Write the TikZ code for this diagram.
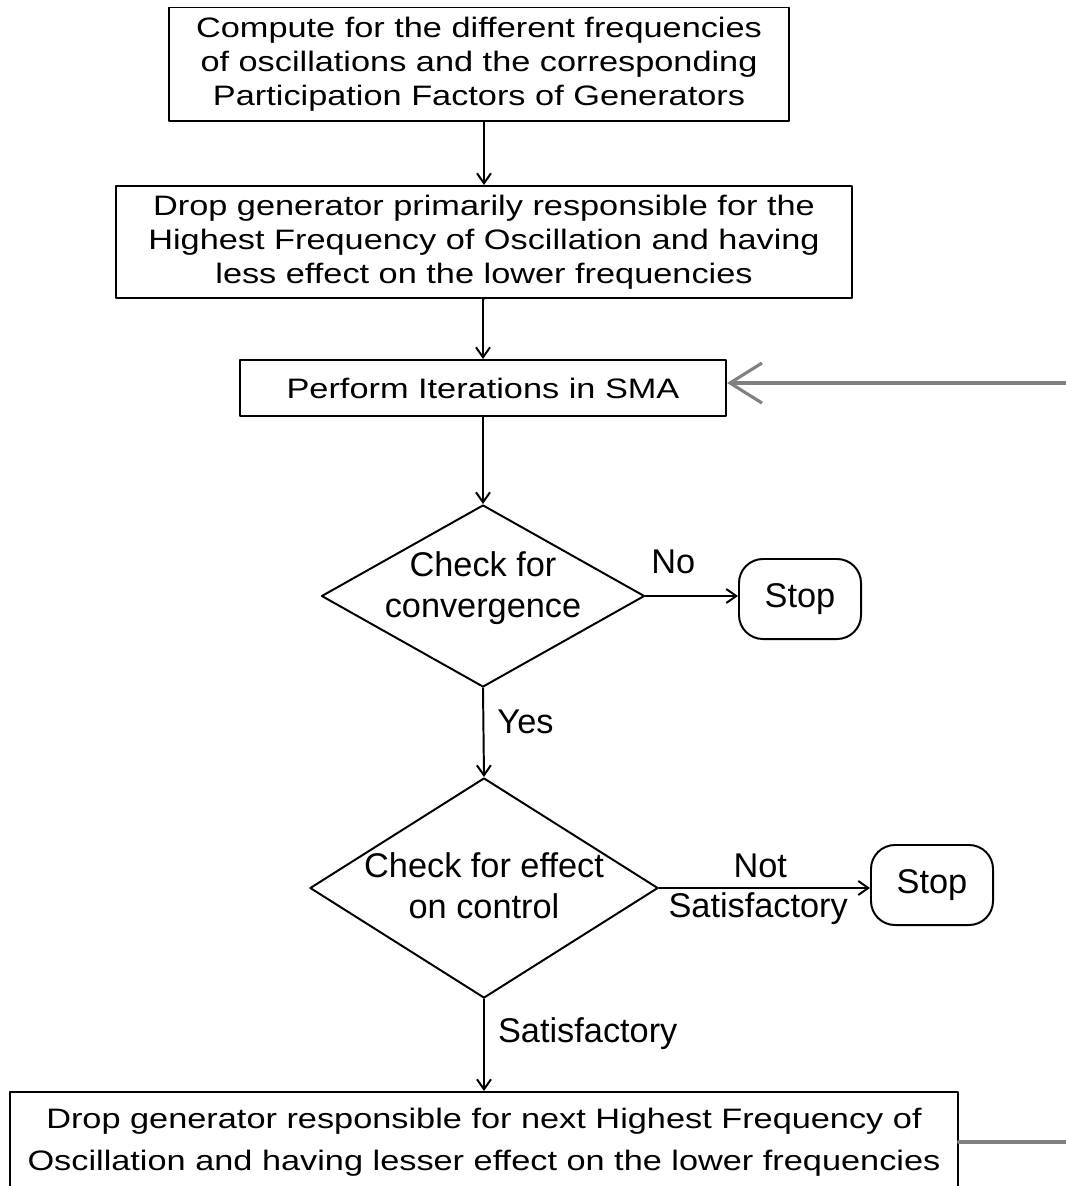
\documentclass[tikz,border=0pt]{standalone}
\usepackage{fontspec}
\setmainfont{Liberation Sans}
\newfontfamily\boxfont[FakeStretch=1.22]{Liberation Sans}
\usetikzlibrary{shapes.geometric,arrows.meta}

\begin{document}
\begin{tikzpicture}[x=0.025cm, y=-0.025cm, line cap=round, line join=round,
    every node/.style={font=\fontsize{24.4}{29}\selectfont},
    box/.style={draw, line width=1.4pt, align=center, inner sep=0pt,
      font=\boxfont\fontsize{20}{24.2}\selectfont},
    check/.style={diamond, draw, line width=1.4pt, inner sep=0pt},
    stopbox/.style={draw, line width=1.4pt, rounded corners=0.6cm,
      minimum width=3.05cm, minimum height=2cm},
    flow/.style={-{Straight Barb[length=2.5mm,width=3.5mm]}, line width=1.4pt},
    back/.style={-{Straight Barb[length=8mm,width=10mm]}, line width=2.2pt, gray}]

  % page = reference frame, pixel units
  \clip (0,0) rectangle (1066,1186);

  \node[box, minimum width=15.5cm, minimum height=2.825cm] (comp) at (479,64)
    {Compute for the different frequencies\\of oscillations and the corresponding\\Participation Factors of Generators};
  \node[box, minimum width=18.375cm, minimum height=2.8cm] (drop) at (484,242)
    {Drop generator primarily responsible for the\\Highest Frequency of Oscillation and having\\less effect on the lower frequencies};
  \node[box, minimum width=12.15cm, minimum height=1.4cm] (sma) at (483,388)
    {Perform Iterations in SMA};

  \node[check, minimum width=8.075cm, minimum height=4.55cm] (conv) at (483,596) {};
  \node[align=center, yshift=0.2cm] (convtxt) at (conv) {Check for\\convergence};
  \node[stopbox] (stopa) at (800,599) {Stop};

  \node[check, minimum width=8.7cm, minimum height=5.5cm] (ctrl) at (484,888) {};
  \node[align=center, yshift=0.05cm] (ctrltxt) at (ctrl) {Check for effect\\on control};
  \node[stopbox] (stopb) at (932,885) {Stop};

  \node[box, minimum width=23.675cm, minimum height=2.5cm,
    font=\boxfont\fontsize{20}{29.5}\selectfont] (next) at (484,1142)
    {Drop generator responsible for next Highest Frequency of\\Oscillation and having lesser effect on the lower frequencies};

  % main flow
  \draw[flow] (drop.north |- comp.south) -- (drop.north);
  \draw[flow] (drop.south) -- (drop.south -| sma.north) -- (sma.north);
  \draw[flow] (sma.south) -- (conv.north);
  \draw[flow] (conv.east) -- (stopa.west |- conv.east) node[above=12pt, pos=0.3] {No};
  \draw[flow] (conv.south) -- (ctrl.north) node[right=6pt, pos=0.38] {Yes};
  \draw[flow] (ctrl.east) -- (stopb.west |- ctrl.east)
    node[above=3pt, pos=0.48] {Not} node[below=-1pt, pos=0.47] {Satisfactory};
  \draw[flow] (ctrl.south) -- (next.north) node[right=6pt, pos=0.38] {Satisfactory};

  % loop back (runs off the page)
  \coordinate (loopb) at (1120,1142);
  \coordinate (loopt) at (1120,383);
  \draw[back] (next.east) -- (loopb) -- (loopt) -- (sma.east |- loopt);
\end{tikzpicture}
\end{document}
